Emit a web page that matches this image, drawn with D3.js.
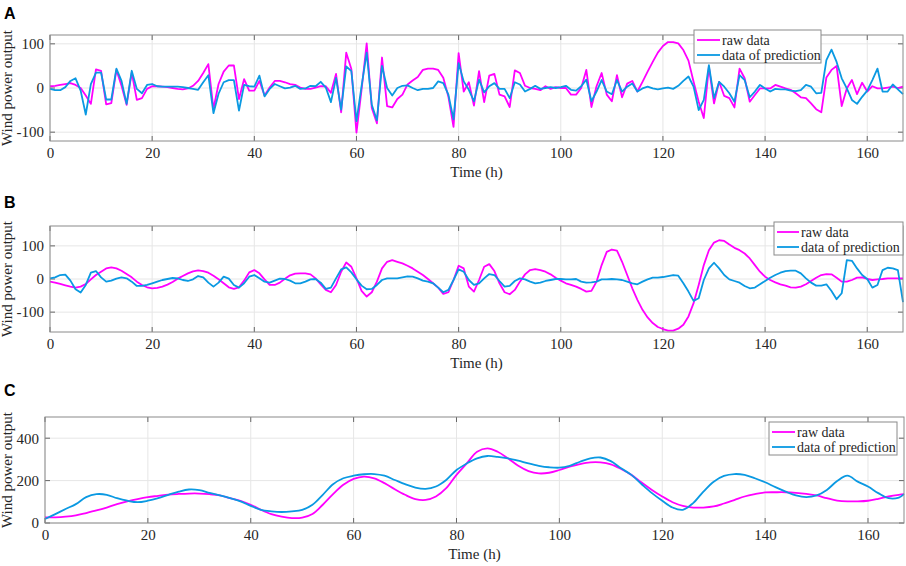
<!DOCTYPE html>
<html><head><meta charset="utf-8">
<script src="https://cdn.jsdelivr.net/npm/d3@7"></script>
<style>body{margin:0;background:#fff}svg{display:block}</style>
</head><body>
<svg id="c" width="906" height="566"></svg>
<script>
// ---- Data ----
const hoursAB = d3.range(0, 168);
const rawA = [4,5,7,9,11,7,0,-17,-36,42,39,-37,-34,41,5,-38,35,-27,-23,-2,4,4,3,2,0,-2,-3,-1,5,16,34,54,-47,9,37,51,51,-25,20,-6,-6,16,-17,1,16,16,13,9,7,1,-2,-2,1,4,4,-11,32,-55,80,43,-101,-4,101,-45,-80,69,-41,-44,-25,-15,8,17,25,41,44,44,41,23,-20,-88,79,-8,13,-40,38,-32,28,32,-15,-19,-43,40,34,5,0,-2,-5,4,-2,2,0,0,-15,-15,0,41,-43,4,34,-15,-30,29,-21,10,16,-8,14,37,59,80,95,104,104,101,86,62,14,-31,-68,48,-35,14,-18,-23,-44,44,22,-31,-16,-1,-1,-1,7,3,-1,-4,-12,-21,-23,-35,-48,-55,24,41,50,-41,-1,18,-14,12,-8,4,-1,-1,1,3,0,3];
const predA = [-2,-5,-5,2,16,22,-6,-60,9,35,35,-26,-26,44,16,-36,39,-2,-12,7,9,4,3,3,3,3,2,0,-2,-4,13,29,-57,-13,13,18,18,-51,7,4,3,28,-19,-2,9,4,-1,1,5,-2,-1,5,4,14,1,-32,23,-49,49,38,-75,4,80,-38,-73,50,0,-17,0,5,6,0,-5,-2,-2,0,15,11,-15,-71,56,15,-4,-30,19,-10,4,11,-2,-2,-23,13,8,-8,-2,5,-2,0,2,0,2,5,-4,-6,4,19,-30,-8,18,-8,-14,18,-8,3,10,-8,-1,3,-1,-3,-1,1,-2,5,16,26,3,-50,-27,52,-23,14,3,-12,-31,29,18,-21,-8,7,-1,-8,-2,-3,-3,-6,-7,-5,7,3,-12,-11,63,87,59,22,-1,-27,-36,-20,-6,18,44,-8,-8,8,-3,-14];
const rawB = [-8,-11,-15,-19,-23,-26,-23,-15,-1,12,22,32,35,32,25,15,5,-8,-18,-25,-28,-27,-23,-17,-9,1,9,17,23,26,24,19,10,-1,-13,-25,-30,-25,-5,20,27,17,-1,-18,-18,-11,1,11,16,17,17,14,2,-16,-33,-40,-18,22,50,37,2,-36,-53,-40,-8,32,52,57,52,47,40,32,22,12,0,-13,-26,-45,-40,-3,40,32,-23,-38,-3,37,45,24,-13,-40,-46,-33,-8,14,27,30,27,22,14,4,-5,-13,-18,-23,-30,-38,-36,-8,42,82,89,86,52,12,-28,-63,-93,-116,-133,-145,-151,-156,-156,-150,-138,-113,-73,-18,42,87,110,117,115,104,94,87,77,62,42,22,7,-3,-10,-16,-20,-25,-26,-23,-16,-6,4,12,15,14,4,-8,-8,-3,4,5,0,-3,-1,0,2,2,2,2];
const predB = [2,5,12,13,-5,-31,-41,-18,19,24,5,-8,-5,1,5,2,-8,-21,-21,-18,-13,-8,-3,0,3,2,-3,-6,-1,9,5,-11,-23,-11,7,1,-18,-26,-13,7,12,2,-8,-11,-5,1,0,-5,-13,-13,-8,-1,0,-11,-30,-26,2,29,35,20,-1,-20,-31,-30,-18,-3,2,2,2,5,8,7,2,-5,-8,-13,-26,-40,-33,-3,29,22,-3,-18,-13,2,15,12,-6,-23,-21,-6,2,-1,-8,-13,-11,-6,-3,0,0,-1,-1,0,-8,-11,-10,-8,-1,-1,0,-1,-3,-8,-13,-16,-8,-1,4,4,6,9,12,10,-13,-38,-66,-58,-3,32,49,32,12,-1,-6,-11,-21,-28,-26,-16,-6,4,12,19,24,25,25,17,2,-11,-20,-20,-16,-36,-61,-43,57,55,32,12,0,-26,-18,27,34,32,27,-70];
const hoursC = d3.range(0, 168, 2).concat([167]);
const rawC = [27,27,30,36,47,59,73,89,102,113,122,128,134,137,139,139,136,130,117,105,86,62,42,30,23,25,42,86,136,180,208,219,211,188,159,133,113,109,125,164,227,281,336,352,336,305,270,245,234,237,250,266,278,286,286,277,255,227,191,156,125,98,81,73,73,78,92,108,125,136,144,145,145,142,137,130,117,106,102,102,105,114,125,133,136];
const predC = [19,42,66,89,122,136,133,117,105,98,105,117,133,148,158,155,142,130,117,102,81,62,55,52,55,62,86,133,183,211,223,230,231,223,203,183,167,161,172,203,250,281,305,316,312,305,294,281,270,263,261,270,289,305,309,292,258,227,183,141,105,73,62,94,148,195,222,231,227,211,192,169,148,130,122,130,156,198,223,195,172,141,117,120,136];
const xTicks = [0,20,40,60,80,100,120,140,160];
const yTicksAB = [-100,0,100];
const yTicksC = [0,200,400];
const seriesNames = ["raw data","data of prediction"];
const colors = ["#ff00ff","#0a99e2"];

const svg = d3.select("#c");
const serif = "'Liberation Serif','Times New Roman',serif";

const panels = [
  {label:"A", box:[50,903,35,141], y:[-120,120], yt:yTicksAB, xs:hoursAB, s:[rawA,predA], curve:d3.curveLinear, lab:[4,19], leg:[694,30,127,28]},
  {label:"B", box:[50,903,226,332], y:[-160,160], yt:yTicksAB, xs:hoursAB, s:[rawB,predB], curve:d3.curveLinear, lab:[4,208], leg:[774,222,129,27]},
  {label:"C", box:[45,904,417,523], y:[0,500], yt:yTicksC, xs:hoursC, s:[rawC,predC], curve:d3.curveCatmullRom, lab:[4,396], leg:[769,422,128,28]}
];

panels.forEach((p,pi)=>{
  const [l,r,t,b] = p.box;
  const x = d3.scaleLinear().domain([0,167]).range([l,r]);
  const y = d3.scaleLinear().domain(p.y).range([b,t]);
  const g = svg.append("g");
  // grid
  g.append("g").selectAll("line").data(xTicks).join("line")
    .attr("x1",d=>x(d)).attr("x2",d=>x(d)).attr("y1",t).attr("y2",b)
    .attr("stroke","#e6e6e6").attr("stroke-width",1);
  g.append("g").selectAll("line").data(p.yt).join("line")
    .attr("x1",l).attr("x2",r).attr("y1",d=>y(d)).attr("y2",d=>y(d))
    .attr("stroke","#e6e6e6").attr("stroke-width",1);
  // axes
  const ax = d3.axisBottom(x).tickValues(xTicks).tickSize(0).tickPadding(6);
  const gx = g.append("g").attr("transform",`translate(0,${b})`).call(ax);
  gx.select(".domain").remove();
  gx.selectAll("text").attr("font-family",serif).attr("font-size",15).attr("fill","#262626");
  const ay = d3.axisLeft(y).tickValues(p.yt).tickSize(0).tickPadding(6).tickFormat(d3.format("d"));
  const gy = g.append("g").attr("transform",`translate(${l},0)`).call(ay);
  gy.select(".domain").remove();
  gy.selectAll("text").attr("font-family",serif).attr("font-size",15).attr("fill","#262626").text(d=>d<0?"-"+Math.abs(d):d);
  // inner tick marks
  const tk = g.append("g").attr("stroke","#666").attr("stroke-width",1);
  xTicks.forEach(d=>{
    tk.append("line").attr("x1",x(d)).attr("x2",x(d)).attr("y1",b).attr("y2",b-5);
    tk.append("line").attr("x1",x(d)).attr("x2",x(d)).attr("y1",t).attr("y2",t+5);
  });
  p.yt.forEach(d=>{
    tk.append("line").attr("x1",l).attr("x2",l+5).attr("y1",y(d)).attr("y2",y(d));
    tk.append("line").attr("x1",r).attr("x2",r-5).attr("y1",y(d)).attr("y2",y(d));
  });
  // lines
  p.s.forEach((vals,si)=>{
    const line = d3.line().x((d,i)=>x(p.xs[i])).y(d=>y(d)).curve(p.curve);
    g.append("path").datum(vals).attr("d",line).attr("fill","none")
      .attr("stroke",colors[si]).attr("stroke-width",1.8).attr("stroke-linejoin","round");
  });
  // box
  g.append("rect").attr("x",l).attr("y",t).attr("width",r-l).attr("height",b-t)
    .attr("fill","none").attr("stroke","#8a8a8a").attr("stroke-width",1);
  // axis titles
  g.append("text").attr("x",(l+r)/2).attr("y",b+35.5).attr("text-anchor","middle")
    .attr("font-family",serif).attr("font-size",15).attr("fill","#262626").text("Time (h)");
  g.append("text").attr("transform",`translate(12,${(t+b)/2}) rotate(-90)`).attr("text-anchor","middle")
    .attr("font-family",serif).attr("font-size",15).attr("fill","#262626").text("Wind power output");
  // panel label
  g.append("text").attr("x",p.lab[0]).attr("y",p.lab[1]).attr("font-family","'Liberation Sans',Arial,sans-serif")
    .attr("font-weight","bold").attr("font-size",16).attr("fill","#000").text(p.label);
  // legend
  const [lx,ly,lw,tx] = p.leg;
  const lg = g.append("g");
  lg.append("rect").attr("x",lx).attr("y",ly).attr("width",lw).attr("height",33)
    .attr("fill","#fff").attr("stroke","#8a8a8a").attr("stroke-width",1);
  seriesNames.forEach((nm,si)=>{
    const yy = ly+10+si*15;
    lg.append("line").attr("x1",lx+3).attr("x2",lx+tx-2).attr("y1",yy).attr("y2",yy)
      .attr("stroke",colors[si]).attr("stroke-width",1.8);
    lg.append("text").attr("x",lx+tx).attr("y",yy+4.5).attr("font-family",serif)
      .attr("font-size",14).attr("fill","#262626").text(nm);
  });
});
</script>
</body></html>
